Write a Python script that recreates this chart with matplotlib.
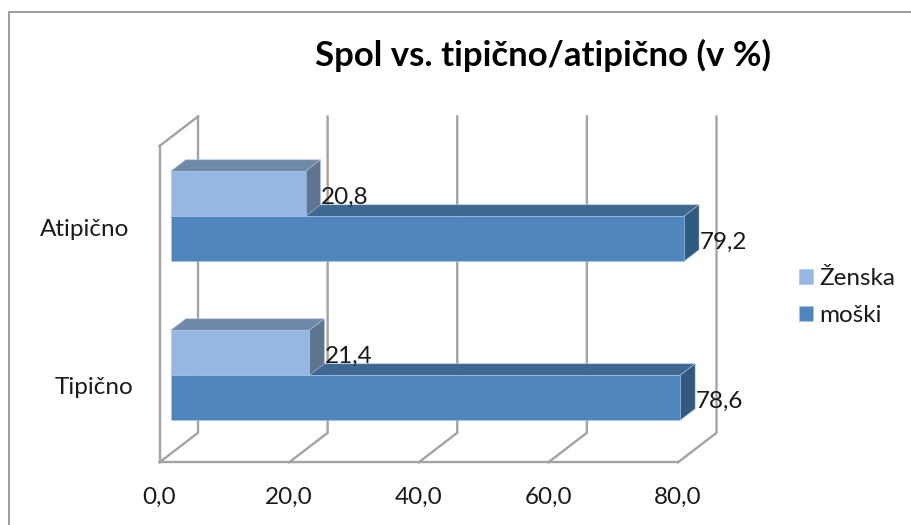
import matplotlib
matplotlib.use("Agg")
import matplotlib.pyplot as plt
from matplotlib.patches import Polygon, Rectangle

categories = ["Tipično", "Atipično"]
zenska = [21.4, 20.8]
moski = [78.6, 79.2]
x_ticks = [0, 20, 40, 60, 80]
series_labels = ["Ženska", "moški"]
title_text = "Spol vs. tipično/atipično (v %)"

W, H = 911, 525
FS = 17.5
INK = "#1A1A1A"
plt.rcParams["font.family"] = ["Lato", "DejaVu Sans"]
fig = plt.figure(figsize=(W / 100, H / 100), dpi=100)

# Plot plane: front edge of the 3D box, in pixel placement
LEFT, RIGHT, TOP, BOTTOM = 159.5, 678.0, 146.0, 462.3
ax = fig.add_axes([LEFT / W, 1 - BOTTOM / H, (RIGHT - LEFT) / W, (BOTTOM - TOP) / H])
ax.set_xlim(0, 80)
ROW_PX = 159.0
ax.set_ylim(-(BOTTOM - 386.0) / ROW_PX, (386.0 - TOP) / ROW_PX)
ax.patch.set_alpha(0)

px_x = 80 / (RIGHT - LEFT)
px_y = 1 / ROW_PX
GRID = "#A3A3A3"
GRID_LW = 1.7

# Depth of the box and of each bar, in data units
box_dx, box_dy = 38.5 * px_x, 29.5 * px_y
bar_dx, bar_dy = 15 * px_x, 11.5 * px_y
shift_x, shift_y = 11.2 * px_x, 10.7 * px_y
bar_h = 45 * px_y

ymin, ymax = ax.get_ylim()
for v in x_ticks:
    ax.plot([v, v + box_dx, v + box_dx], [ymin, ymin + box_dy, ymax + box_dy],
            color=GRID, lw=GRID_LW, zorder=1, clip_on=False, solid_joinstyle="miter")
ax.plot([0, box_dx], [ymax, ymax + box_dy], color=GRID, lw=GRID_LW, zorder=1, clip_on=False)


def box_bar(y_low, value, front, top, side, z):
    """Draw one horizontal bar as front, top and end faces."""
    x0 = shift_x
    x1 = shift_x + value
    y1 = y_low + bar_h
    edge = "#A9C4E4"
    ax.add_patch(Polygon([(x0, y1), (x1, y1), (x1 + bar_dx, y1 + bar_dy), (x0 + bar_dx, y1 + bar_dy)],
                         fc=top, ec=edge, lw=0.4, zorder=z, clip_on=False))
    ax.add_patch(Polygon([(x1, y_low), (x1 + bar_dx, y_low + bar_dy), (x1 + bar_dx, y1 + bar_dy), (x1, y1)],
                         fc=side, ec=edge, lw=0.4, zorder=z, clip_on=False))
    return ax.barh(y_low, value, height=bar_h, left=x0, align="edge", color=front,
                   edgecolor=edge, linewidth=0.4, zorder=z + 0.1, clip_on=False)


FEMALE = ("#95B7E1", "#7089A9", "#5F748F")
MALE = ("#4F86BD", "#3E688F", "#305A7E")
for i in range(len(categories)):
    base = i + shift_y
    h_m = box_bar(base - bar_h, moski[i], *MALE, 3)
    h_z = box_bar(base, zenska[i], *FEMALE, 4)
    for val, yc in ((zenska[i], base + bar_h / 2),
                    (moski[i], base - bar_h / 2)):
        ax.annotate(f"{val:.1f}".replace(".", ","), xy=(shift_x + val + bar_dx, yc),
                    xytext=(0.5, -2.5), textcoords="offset points", ha="left", va="center",
                    fontsize=FS, color=INK, zorder=6, annotation_clip=False)

ax.set_xticks(x_ticks)
ax.set_xticklabels([f"{v:.1f}".replace(".", ",") for v in x_ticks], fontsize=FS, color=INK)
ax.set_yticks(range(len(categories)))
ax.set_yticklabels(categories, fontsize=FS, color=INK)
ax.tick_params(axis="both", length=0)
ax.tick_params(axis="x", pad=17.5)
for tick, pad in zip(ax.yaxis.get_major_ticks(), (19, 21.5)):
    tick.set_pad(pad)

for name in ("top", "right"):
    ax.spines[name].set_visible(False)
for name in ("left", "bottom"):
    ax.spines[name].set_color(GRID)
    ax.spines[name].set_linewidth(GRID_LW)

fig.text(543 / W, 1 - 55 / H, title_text, fontsize=25, fontweight="bold", ha="center", va="center", color="black")

ax.legend([h_z, h_m], series_labels, loc="center left", bbox_to_anchor=(799 / W, 1 - 297 / H),
          bbox_transform=fig.transFigure, frameon=False, fontsize=FS, handlelength=0.56, handleheight=0.56,
          handletextpad=0.28, labelspacing=0.65, borderpad=0, borderaxespad=0, labelcolor=INK)

# Outer chart frame
fig.add_artist(Rectangle((8.5 / W, -0.02), (W - 8.5 + 20) / W, 1.02 - 12 / H, transform=fig.transFigure,
                         fill=False, ec="#8C8C8C", lw=1.2))

fig.savefig("out.png", dpi=100)
